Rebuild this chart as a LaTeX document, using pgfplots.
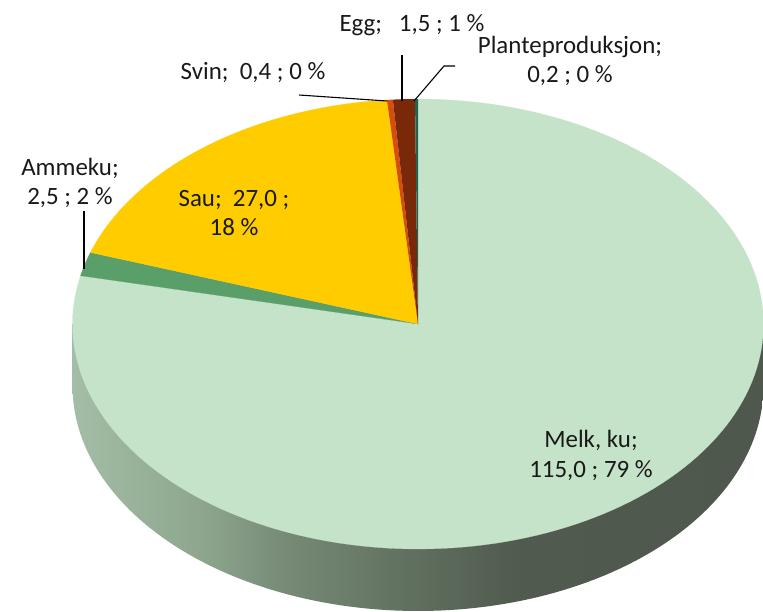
\documentclass[border=0pt]{standalone}
\usepackage{pgfplots}
\usepackage{pgfplotstable}
\pgfplotsset{compat=1.18}
\usepackage{fontspec}
\setmainfont{Carlito}

\definecolor{melk}{RGB}{196,227,200}
\definecolor{ammeku}{RGB}{90,158,105}
\definecolor{sau}{RGB}{255,204,0}
\definecolor{svin}{RGB}{214,78,14}
\definecolor{egg}{RGB}{122,40,10}
\definecolor{plante}{RGB}{30,100,80}
\definecolor{s0}{RGB}{163,189,166}
\definecolor{s1}{RGB}{142,166,142}
\definecolor{s2}{RGB}{118,138,118}
\definecolor{s3}{RGB}{95,110,94}
\definecolor{s4}{RGB}{80,90,78}
\definecolor{s5}{RGB}{78,88,76}
\pgfdeclarehorizontalshading{sideshade}{100bp}{color(0bp)=(s0); color(25bp)=(s0); color(34.25bp)=(s1); color(40.5bp)=(s2); color(50bp)=(s3); color(57.5bp)=(s4); color(75bp)=(s5); color(100bp)=(s5)}

\tikzset{lab/.style={font=\fontsize{25}{30}\selectfont, text=black!90, align=center, inner sep=0pt}}

\pgfplotstableread{
label value
Melk 115.0
Ammeku 2.5
Sau 27.0
Svin 0.4
Egg 1.5
Plante 0.2
}\piedata

\pgfplotstablegetelem{0}{value}\of\piedata \let\vA\pgfplotsretval
\pgfplotstablegetelem{1}{value}\of\piedata \let\vB\pgfplotsretval
\pgfplotstablegetelem{2}{value}\of\piedata \let\vC\pgfplotsretval
\pgfplotstablegetelem{3}{value}\of\piedata \let\vD\pgfplotsretval
\pgfplotstablegetelem{4}{value}\of\piedata \let\vE\pgfplotsretval
\pgfplotstablegetelem{5}{value}\of\piedata \let\vF\pgfplotsretval
\pgfmathsetmacro\tot{\vA+\vB+\vC+\vD+\vE+\vF}
\pgfmathsetmacro\aA{360*(\vA/\tot)}
\pgfmathsetmacro\aB{\aA+360*(\vB/\tot)}
\pgfmathsetmacro\aC{\aB+360*(\vC/\tot)}
\pgfmathsetmacro\aD{\aC+360*(\vD/\tot)}
\pgfmathsetmacro\aE{\aD+360*(\vE/\tot)}

% pie geometry (image pixel coordinates)
\def\cx{418}
\def\cy{324}
\def\rx{345.5}
\def\ry{225}
\def\dep{62}

\begin{document}
\begin{tikzpicture}
\begin{axis}[
  width=763bp, height=612bp, scale only axis,
  xmin=0, xmax=763, ymin=0, ymax=612, y dir=reverse,
  axis line style={draw=none}, xtick=\empty, ytick=\empty,
  clip=true,
]
% side of the pie
\addplot[draw=none, shade, shading=sideshade, domain=90:270, samples=120, variable=\t]
  ({\cx+\rx*sin(t)}, {\cy+\dep-\ry*cos(t)}) -- (axis cs:\cx-\rx,\cy) -- (axis cs:\cx+\rx,\cy) -- cycle;
% top slices
\addplot[fill=melk, draw=melk, line width=0.2pt, domain=0:\aA, samples=160, variable=\t]
  ({\cx+\rx*sin(t)}, {\cy-\ry*cos(t)}) -- (axis cs:\cx,\cy) -- cycle;
\addplot[fill=ammeku, draw=ammeku, line width=0.2pt, domain=\aA:\aB, samples=10, variable=\t]
  ({\cx+\rx*sin(t)}, {\cy-\ry*cos(t)}) -- (axis cs:\cx,\cy) -- cycle;
\addplot[fill=sau, draw=sau, line width=0.2pt, domain=\aB:\aC, samples=60, variable=\t]
  ({\cx+\rx*sin(t)}, {\cy-\ry*cos(t)}) -- (axis cs:\cx,\cy) -- cycle;
\addplot[fill=svin, draw=none, domain=\aC:\aD, samples=5, variable=\t]
  ({\cx+\rx*sin(t)}, {\cy-\ry*cos(t)}) -- (axis cs:\cx,\cy) -- cycle;
\addplot[fill=egg, draw=none, domain=\aD:\aE, samples=6, variable=\t]
  ({\cx+\rx*sin(t)}, {\cy-\ry*cos(t)}) -- (axis cs:\cx,\cy) -- cycle;
\addplot[fill=plante, draw=none, domain=\aE:360, samples=4, variable=\t]
  ({\cx+\rx*sin(t)}, {\cy-\ry*cos(t)}) -- (axis cs:\cx,\cy) -- cycle;

% leader lines
\addplot[black, line width=1.1pt, no marks] coordinates {(402,55) (402,101)};
\addplot[black, line width=1.1pt, no marks] coordinates {(455,66) (444,66) (414,101)};
\addplot[black, line width=1.1pt, no marks] coordinates {(299,95) (387,101)};
\addplot[black, line width=1.1pt, no marks] coordinates {(84,211) (84,269)};

% labels
\node[lab] at (axis cs:412,25) {Egg;\ \ \ 1,5 ; 1 \%};
\node[lab] at (axis cs:570,61) {Planteproduksjon;\\0,2 ; 0 \%};
\node[lab] at (axis cs:253,73) {Svin;\ \ 0,4 ; 0 \%};
\node[lab] at (axis cs:70,183) {Ammeku;\\2,5 ; 2 \%};
\node[lab] at (axis cs:234,213) {Sau;\ \ 27,0 ;\\18 \%};
\node[lab] at (axis cs:591,455) {Melk, ku;\\115,0 ; 79 \%};
\end{axis}
\end{tikzpicture}
\end{document}
